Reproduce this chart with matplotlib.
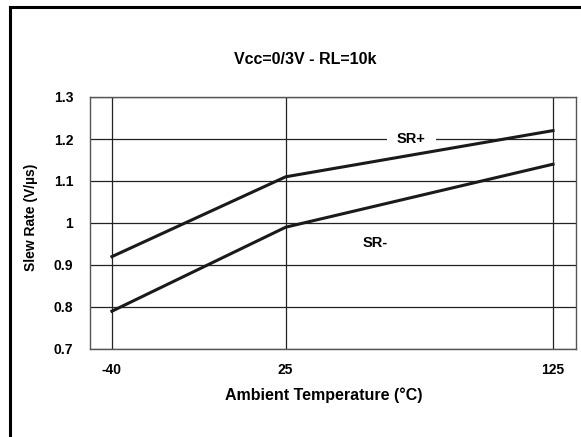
import numpy as np
import matplotlib
matplotlib.use("Agg")
import matplotlib.pyplot as plt

temps = [-40, 25, 125]
sr_plus = [0.92, 1.11, 1.22]
sr_minus = [0.79, 0.99, 1.14]
x_ticks = [-40, 25, 125]
y_ticks = [0.7, 0.8, 0.9, 1.0, 1.1, 1.2, 1.3]
y_labels = ["0.7", "0.8", "0.9", "1", "1.1", "1.2", "1.3"]

plt.rcParams['font.family'] = ['Liberation Sans', 'DejaVu Sans']
plt.rcParams['font.weight'] = 'bold'
plt.rcParams['axes.unicode_minus'] = False

W, H = 581, 437
fig = plt.figure(figsize=(W/100, H/100), dpi=100)
ax = fig.add_axes([90/W, 1-349/H, (576-90)/W, (349-97)/H])

ax.set_xlim(-48.2, 133.6)
ax.set_ylim(0.7, 1.3)
ax.set_xticks(x_ticks)
ax.set_yticks(y_ticks)
ax.set_yticklabels(y_labels)
ax.tick_params(length=0, labelsize=10, pad=12)
ax.tick_params(axis='x', pad=10)
for lab in ax.get_xticklabels() + ax.get_yticklabels():
    lab.set_fontweight('bold')

ax.grid(True, color='#222222', linewidth=0.9)
for s in ax.spines.values():
    s.set_color('#555555')
    s.set_linewidth(1.0)

ax.plot(temps, sr_plus, color='#1a1a1a', lw=2.2, zorder=3)
ax.plot(temps, sr_minus, color='#1a1a1a', lw=2.2, zorder=3)

ax.text(72, 1.2, "SR+", ha='center', va='center', fontsize=10.5, fontweight='bold', zorder=2,
        bbox=dict(facecolor='white', edgecolor='none', pad=7))
ax.text(58.5, 0.953, "SR-", ha='center', va='center', fontsize=10.5, fontweight='bold')

fig.text(305.5/W, 1-60/H, "Vcc=0/3V - RL=10k", ha='center', va='center', fontsize=11.5, fontweight='bold')
fig.text(324/W, 1-395/H, "Ambient Temperature (°C)", ha='center', va='center', fontsize=11.5, fontweight='bold')
fig.text(31/W, 1-217/H, "Slew Rate (V/µs)", ha='center', va='center', rotation=90, fontsize=10, fontweight='bold')

# outer frame lines (left and top)
fig.add_artist(plt.Line2D([10/W, 10/W], [0, 1-7/H], color='black', lw=2.2, transform=fig.transFigure))
fig.add_artist(plt.Line2D([10/W, 1], [1-7/H, 1-7/H], color='black', lw=2.2, transform=fig.transFigure))

fig.savefig("out.png", dpi=100)
